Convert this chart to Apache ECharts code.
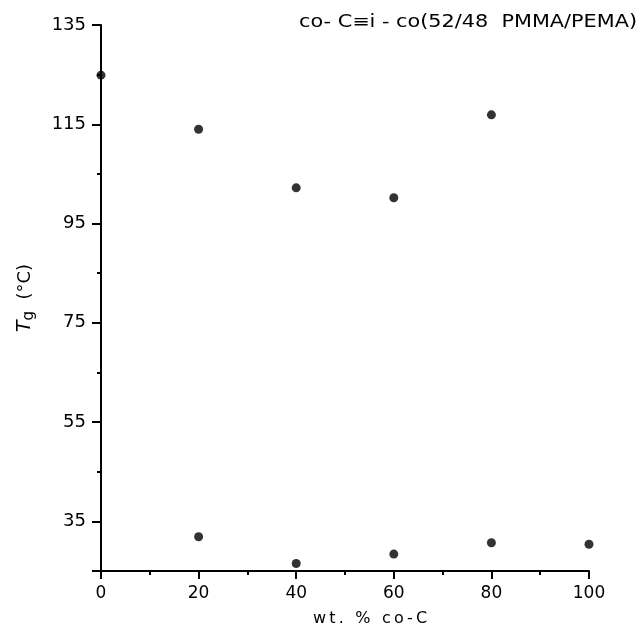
<!doctype html>
<html>
<head>
<meta charset="UTF-8">
<title>Tg vs wt% co-C</title>
<script src="https://cdn.jsdelivr.net/npm/echarts@6/dist/echarts.min.js"></script>
<style>
  html, body { margin: 0; padding: 0; background: #fff; }
  #main { width: 642px; height: 637px; }
</style>
</head>
<body>
<div id="main"></div>
<script>
// wt. % co-C for each measured blend
var xValues = [0, 20, 40, 60, 80, 100, 20, 40, 60, 80];
// Tg values (°C): upper branch then lower branch
var tgValues = [124.9, 114.0, 102.2, 100.2, 116.9, 30.4, 31.9, 26.5, 28.4, 30.7];
var xMajorTicks = [0, 20, 40, 60, 80, 100];
var xMinorTicks = [10, 30, 50, 70, 90];
var yLabelTicks = [35, 55, 75, 95, 115, 135];
var yMinorTicks = [45, 65, 85, 105, 125];

var font = 'DejaVu Sans';
var titleText = 'co- C\u2261i - co(52/48  PMMA/PEMA)';
var titleFont = '17px ' + font;
// the original lettering is stretched wide, so squeeze/stretch to its span
var ctx = document.createElement('canvas').getContext('2d');
ctx.font = titleFont;
var titleScale = 338 / ctx.measureText(titleText).width;

function spaced(s) { return s.split('').join('\u2009'); }

var points = [];
for (var i = 0; i < xValues.length; i++) points.push([xValues[i], tgValues[i]]);

var chart = echarts.init(document.getElementById('main'));

chart.setOption({
  animation: false,
  backgroundColor: '#fff',
  grid: { left: 101, right: 53, top: 25, bottom: 66 },
  graphic: [{
    type: 'text',
    x: 299,
    y: 14,
    scaleX: titleScale,
    style: {
      text: titleText,
      font: titleFont,
      fill: '#000',
      verticalAlign: 'top'
    }
  }],
  xAxis: [{
    type: 'value',
    min: 0, max: 100,
    position: 'bottom',
    splitLine: { show: false },
    axisLine: { onZero: false, lineStyle: { color: '#000', width: 2 } },
    axisTick: { customValues: xMajorTicks, length: 8, lineStyle: { color: '#000', width: 2 } },
    axisLabel: { customValues: xMajorTicks, margin: 14, color: '#000', fontSize: 17, fontFamily: font },
    name: spaced('wt. % co-C'),
    nameLocation: 'middle',
    nameGap: 40,
    nameTextStyle: { color: '#000', fontSize: 16, fontFamily: font, padding: [0, 0, 0, 50] }
  }, {
    type: 'value',
    min: 0, max: 100,
    position: 'bottom',
    splitLine: { show: false },
    axisLine: { show: false },
    axisTick: { customValues: xMinorTicks, length: 4, lineStyle: { color: '#000', width: 2 } },
    axisLabel: { show: false }
  }],
  yAxis: [{
    type: 'value',
    min: 25, max: 135,
    splitLine: { show: false },
    axisLine: { onZero: false, lineStyle: { color: '#000', width: 2 } },
    axisTick: { customValues: [25].concat(yLabelTicks), length: 9, lineStyle: { color: '#000', width: 2 } },
    axisLabel: { customValues: yLabelTicks, margin: 15, color: '#000', fontSize: 18, fontFamily: font },
    name: '{t|T}{g|g}  (°C)',
    nameLocation: 'middle',
    nameGap: 64,
    nameRotate: 90,
    nameTextStyle: {
      color: '#000', fontSize: 18, fontFamily: font,
      rich: {
        t: { fontSize: 19, fontStyle: 'italic', fontFamily: font, color: '#000' },
        g: { fontSize: 15, fontFamily: font, color: '#000', verticalAlign: 'bottom', padding: [8, 0, 0, 0] }
      }
    }
  }, {
    type: 'value',
    min: 25, max: 135,
    position: 'left',
    splitLine: { show: false },
    axisLine: { show: false },
    axisTick: { customValues: yMinorTicks, length: 4, lineStyle: { color: '#000', width: 2 } },
    axisLabel: { show: false }
  }],
  series: [{
    type: 'scatter',
    data: points,
    symbol: 'circle',
    symbolSize: 9,
    itemStyle: { color: '#000' }
  }]
});
</script>
</body>
</html>
